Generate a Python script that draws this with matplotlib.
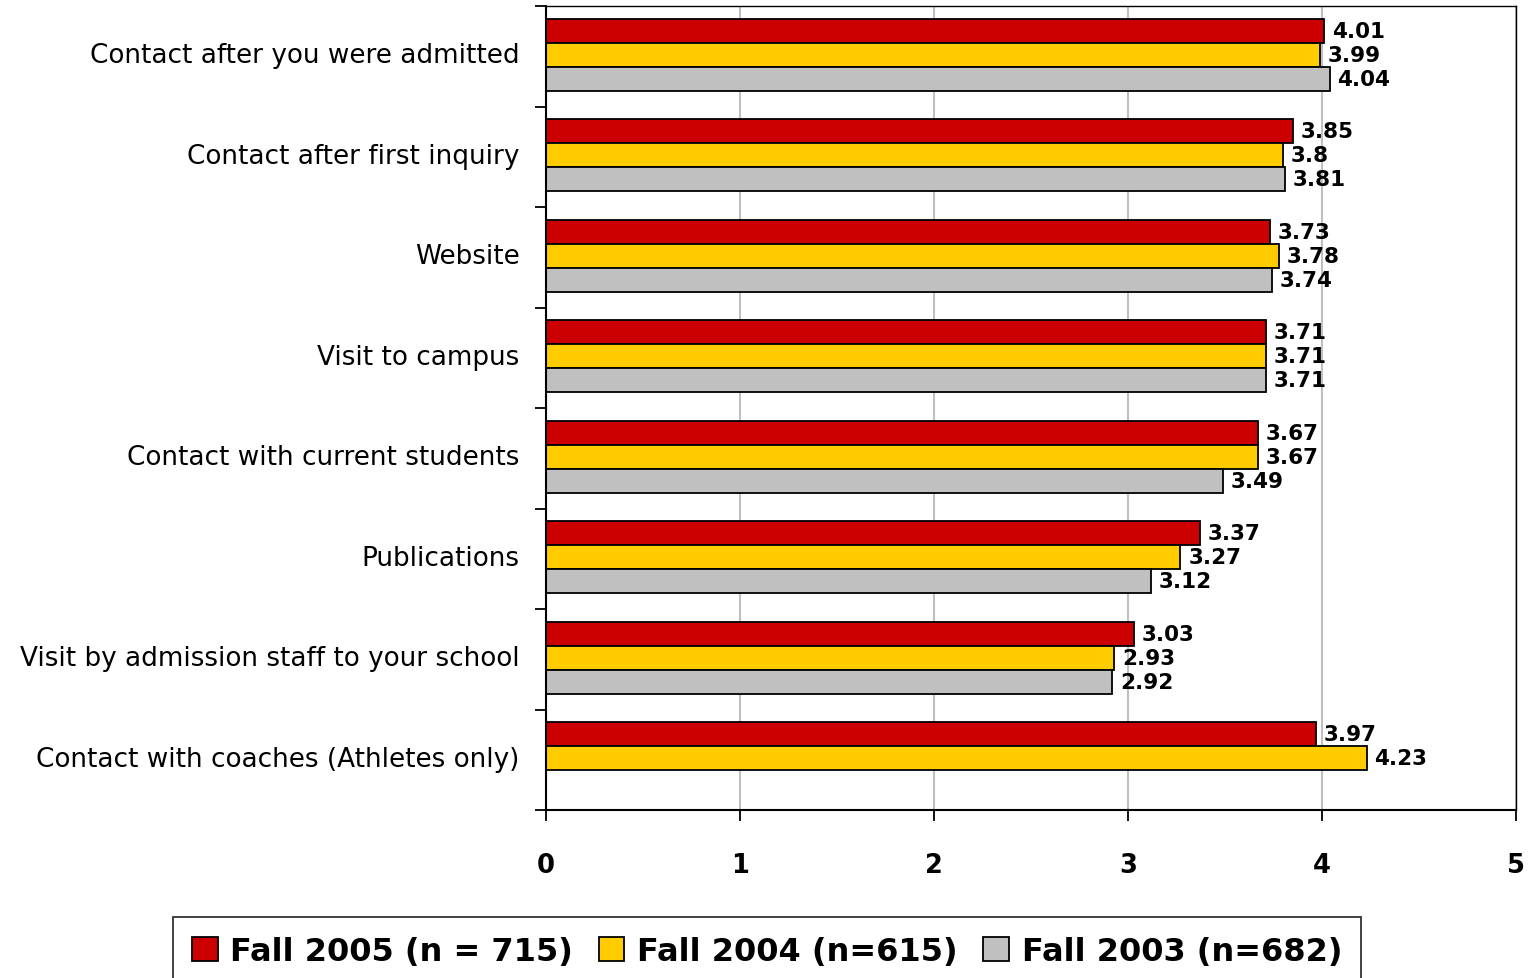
import numpy as np
import matplotlib
matplotlib.use("Agg")
import matplotlib.pyplot as plt
import matplotlib.transforms as mtransforms
from matplotlib.patches import Patch

categories = [
    "Contact after you were admitted",
    "Contact after first inquiry",
    "Website",
    "Visit to campus",
    "Contact with current students",
    "Publications",
    "Visit by admission staff to your school",
    "Contact with coaches (Athletes only)",
]
fall_2005 = [4.01, 3.85, 3.73, 3.71, 3.67, 3.37, 3.03, 3.97]
fall_2004 = [3.99, 3.8, 3.78, 3.71, 3.67, 3.27, 2.93, 4.23]
fall_2003 = [4.04, 3.81, 3.74, 3.71, 3.49, 3.12, 2.92, np.nan]
series_names = ["Fall 2005 (n = 715)", "Fall 2004 (n=615)", "Fall 2003 (n=682)"]
colors = ["#CC0000", "#FFCC00", "#C0C0C0"]
x_ticks = [0, 1, 2, 3, 4, 5]

fig = plt.figure(figsize=(15.4, 9.79), dpi=100)
ax = fig.add_axes([546/1540, 1-811/979, (1516-546)/1540, (811-7)/979])

y = np.arange(len(categories))
h = 0.24
offsets = [-0.255, -0.015, 0.225]
for vals, col, off, name in zip([fall_2005, fall_2004, fall_2003], colors, offsets, series_names):
    vals = np.array(vals, dtype=float)
    ax.barh(y + off, vals, height=h, color=col, edgecolor="black", linewidth=1.3, label=name)
    for yi, v in zip(y + off, vals):
        if np.isnan(v):
            continue
        ax.text(v + 0.04, yi, f"{v:g}", va="center", ha="left", fontsize=15.5,
                fontweight="bold", color="black")

ax.set_xlim(0, 5)
ax.set_ylim(len(categories) - 0.5, -0.5)
ax.set_xticks(x_ticks)
ax.set_xticklabels([str(t) for t in x_ticks], fontsize=18.5, fontweight="bold")
ax.tick_params(axis="x", length=8, width=1.3, pad=22, direction="out")
ax.set_yticks(y)
ax.set_yticklabels(categories, fontsize=18.9)
ax.set_yticks(np.arange(len(categories) + 1) - 0.5, minor=True)
ax.tick_params(axis="y", which="major", length=0, pad=19)
ax.tick_params(axis="y", which="minor", length=8, width=1.3, direction="out")
shift = mtransforms.ScaledTranslation(0, 4/100, fig.dpi_scale_trans)
for lab in ax.get_yticklabels():
    lab.set_transform(lab.get_transform() + shift)
ax.xaxis.grid(True, color="#C0C0C0", linewidth=1.5)
ax.set_axisbelow(True)
for s in ["left", "bottom"]:
    ax.spines[s].set_linewidth(1.5)
for s in ["top", "right"]:
    ax.spines[s].set_linewidth(1.0)

handles = [Patch(facecolor=c, edgecolor="black", linewidth=1.3) for c in colors]
leg = fig.legend(handles, series_names, loc="upper center", bbox_to_anchor=(767/1540, 1-918/979),
                 ncol=3, frameon=True, fancybox=False, edgecolor="black",
                 prop={"size": 23, "weight": "bold"}, handlelength=0.8, handleheight=0.8,
                 handletextpad=0.4, columnspacing=0.8, borderpad=0.6, borderaxespad=0)
leg.get_frame().set_linewidth(1.3)

fig.savefig("out.png", dpi=100)
